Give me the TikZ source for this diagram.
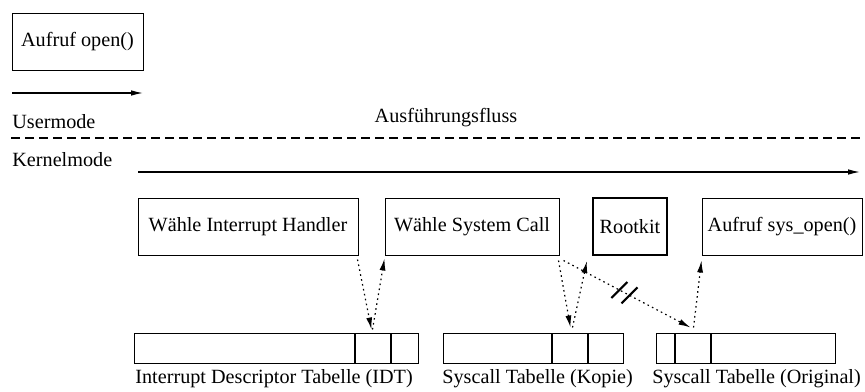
\documentclass[tikz,border=0pt]{standalone}
\usepackage{fontspec}
\setmainfont{Liberation Serif}
\usetikzlibrary{arrows.meta}
\usetikzlibrary{positioning}
\usetikzlibrary{calc}

\begin{document}
\begin{tikzpicture}[x=0.5pt, y=-0.5pt, font=\fontsize{10.1}{12}\selectfont]
        % ================= styles =================
        \tikzset{
            % boxes for the steps
            stepbox/.style={draw=black, line width=0.5pt, inner sep=0pt, minimum height=28.5pt},
            % cells of a table
            cell/.style={draw=black, line width=0.5pt, inner sep=0pt, minimum height=15pt},
            % plain text
            lbl/.style={inner sep=0pt},
            % solid flow arrow
            flow/.style={line width=0.6pt, -{Latex[length=6pt, width=2.8pt]}},
            % dotted lookup arrow
            lookup/.style={line width=0.6pt, dash pattern=on 0.8pt off 1.7pt, -{Latex[length=6pt, width=3pt]}}
        }
        \useasboundingbox (0,0) rectangle (865,391);

        % ================= usermode =================
        \node[stepbox, minimum width=65.5pt] (open) at (77.5,41.5) {Aufruf open()};
        \coordinate (ua) at (12,93);
        \coordinate (ub) at (143,93);
        \draw[flow] (ua) -- (ub);
        \node[lbl, anchor=base west] (user) at (12,128) {Usermode};
        \node[lbl, anchor=base] (fluss) at (446,122) {Ausführungsfluss};

        % mode border
        \coordinate (ml) at (11,138);
        \coordinate (mr) at (865,138);
        \draw[line width=1pt, dash pattern=on 4.5pt off 2.5pt] (ml) -- (mr);

        % ================= kernelmode =================
        \node[lbl, anchor=base west] (kernel) at (12,166) {Kernelmode};
        \coordinate (ka) at (138,172);
        \coordinate (kb) at (860,172);
        \draw[flow] (ka) -- (kb);

        % steps
        \node[stepbox, minimum width=110pt] (ih) at (248,226.5) {Wähle Interrupt Handler};
        \node[stepbox, minimum width=87pt] (sc) at (472,226.5) {Wähle System Call};
        \node[stepbox, minimum width=37pt, line width=1.1pt] (rk) at (630,226.5) {Rootkit};
        \node[stepbox, minimum width=80pt] (so) at (782,226.5) {Aufruf sys\_open()};

        % tables
        \node[cell, minimum width=110pt] (idt1) at (244,348) {};
        \node[cell, minimum width=17.5pt, right=0pt of idt1] (idt2) {};
        \node[cell, minimum width=13.5pt, right=0pt of idt2] (idt3) {};

        \node[cell, minimum width=54pt] (kop1) at (497,348) {};
        \node[cell, minimum width=17.5pt, right=0pt of kop1] (kop2) {};
        \node[cell, minimum width=17.5pt, right=0pt of kop2] (kop3) {};

        \node[cell, minimum width=9pt] (org1) at (665,348) {};
        \node[cell, minimum width=17.5pt, right=0pt of org1] (org2) {};
        \node[cell, minimum width=62pt, right=0pt of org2] (org3) {};

        \node[lbl, anchor=base west] (idtl) at (135,383) {Interrupt Descriptor Tabelle (IDT)};
        \node[lbl, anchor=base west] (kopl) at (442,383) {Syscall Tabelle (Kopie)};
        \node[lbl, anchor=base west] (orgl) at (652,383) {Syscall Tabelle (Original)};

        % lookups
        \draw[lookup] ($(ih.south east)+(-1,4)$) -- ($(idt2.north)+(-1,-3)$);
        \draw[lookup] ($(idt2.north)+(0,-3)$) -- ($(sc.south west)+(0,3)$);
        \draw[lookup] ($(sc.south east)+(-1,5)$) -- ($(kop2.north)+(1,-5)$);
        \draw[lookup] ($(kop2.north)+(3,-5)$) -- ($(rk.south west)+(-5,5)$);
        \draw[lookup] ($(sc.south east)+(4,5)$)
            -- coordinate[pos=0.44] (cut1) coordinate[pos=0.52] (cut2) ($(org2.north)+(-2,-5)$);
        \draw[lookup] ($(org2.north)+(1,-5)$) -- ($(so.south west)+(0,5)$);

        % broken link
        \draw[line width=1pt] ($(cut1)+(-8,8)$) -- ($(cut1)+(8,-8)$);
        \draw[line width=1pt] ($(cut2)+(-8,8)$) -- ($(cut2)+(8,-8)$);
\end{tikzpicture}
\end{document}
